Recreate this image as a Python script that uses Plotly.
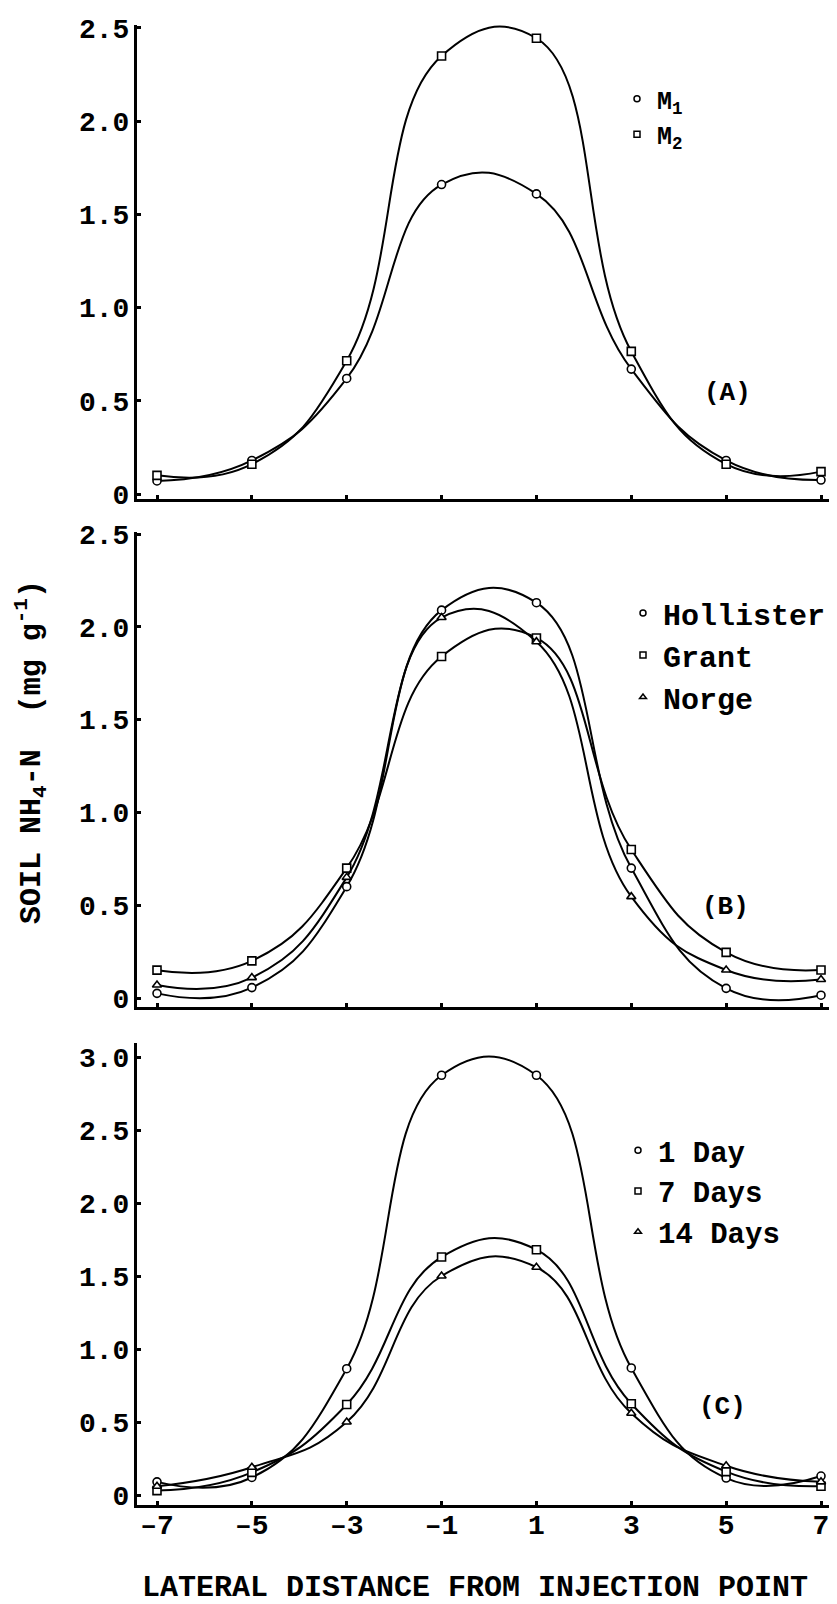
import plotly.graph_objects as go

# ---------------- data ----------------
distance = [-7, -5, -3, -1, 1, 3, 5, 7]

# Panel A
m1 = [0.07, 0.18, 0.62, 1.66, 1.61, 0.67, 0.18, 0.075]
m2 = [0.10, 0.16, 0.715, 2.35, 2.445, 0.765, 0.16, 0.12]

# Panel B
hollister = [0.025, 0.056, 0.60, 2.09, 2.13, 0.70, 0.052, 0.015]
grant = [0.15, 0.20, 0.70, 1.84, 1.94, 0.80, 0.246, 0.151]
norge = [0.07, 0.11, 0.65, 2.05, 1.92, 0.546, 0.151, 0.10]

# Panel C
day1 = [0.09, 0.12, 0.865, 2.875, 2.875, 0.87, 0.116, 0.13]
day7 = [0.03, 0.155, 0.62, 1.63, 1.68, 0.625, 0.16, 0.06]
day14 = [0.06, 0.19, 0.50, 1.50, 1.56, 0.56, 0.20, 0.09]

x_ticks = [-7, -5, -3, -1, 1, 3, 5, 7]
x_ticktext = ["\u20137", "\u20135", "\u20133", "\u20131", "1", "3", "5", "7"]
y_ticks_ab = [0, 0.5, 1.0, 1.5, 2.0, 2.5]
y_ticktext_ab = ["0", "0.5", "1.0", "1.5", "2.0", "2.5"]
y_ticks_c = [0, 0.5, 1.0, 1.5, 2.0, 2.5, 3.0]
y_ticktext_c = ["0", "0.5", "1.0", "1.5", "2.0", "2.5", "3.0"]

panels = [
    dict(ax="", legend="legend", label="(A)",
         series=[("M<sub>1</sub>", m1, "circle"), ("M<sub>2</sub>", m2, "square")]),
    dict(ax="2", legend="legend2", label="(B)",
         series=[("Hollister", hollister, "circle"), ("Grant", grant, "square"),
                 ("Norge", norge, "triangle-up")]),
    dict(ax="3", legend="legend3", label="(C)",
         series=[("1 Day", day1, "circle"), ("7 Days", day7, "square"),
                 ("14 Days", day14, "triangle-up")]),
]

# ---------------- layout geometry ----------------
# the page places the figure 8px in from the top-left corner (body margin)
W, H = 837, 1604
OFF = 8
ML = 137 - OFF
PW = W - ML


def py(yref):
    return 1 - (yref - OFF) / H


def px(xref):
    return (xref - OFF - ML) / PW


MONO = "Liberation Mono"

fig = go.Figure()

for p in panels:
    xa, ya = "x" + p["ax"], "y" + p["ax"]
    for name, vals, sym in p["series"]:
        fig.add_trace(go.Scatter(
            x=distance, y=vals, mode="lines+markers",
            line=dict(color="black", width=2, shape="spline", smoothing=1.3),
            marker=dict(symbol=sym, size=8, color="white",
                        line=dict(color="black", width=1.6)),
            xaxis=xa, yaxis=ya, showlegend=False, cliponaxis=False,
        ))
    for i, (name, vals, sym) in enumerate(p["series"]):
        fig.add_trace(go.Scatter(
            x=[None], y=[None], mode="markers", name=name,
            marker=dict(symbol=sym, size=6, color="white",
                        line=dict(color="black", width=1.5)),
            xaxis=xa, yaxis=ya, legend=p["legend"], legendgroup=p["legend"] + str(i),
            showlegend=True,
        ))

unit_px = (821 - 157) / 14.0
xmin = -7 - (157 - 137) / unit_px
xrange = [xmin, xmin + PW / unit_px]

axis_common = dict(showline=True, linecolor="black", linewidth=3, showgrid=False,
                   zeroline=False, ticks="inside", ticklen=4, tickwidth=3,
                   tickcolor="black", automargin=False)

tickfont = dict(family=MONO, size=28, color="black", weight="bold")

layout = dict(
    width=W, height=H,
    margin=dict(l=ML, r=0, t=0, b=0, pad=0, autoexpand=False),
    paper_bgcolor="white", plot_bgcolor="white",
    showlegend=True,
)

domains = {
    "": ([py(499), py(25)], [-0.0268, 2.516], y_ticks_ab, y_ticktext_ab),
    "2": ([py(1007), py(532)], [-0.0485, 2.511], y_ticks_ab, y_ticktext_ab),
    "3": ([py(1505), py(1043)], [-0.0685, 3.096], y_ticks_c, y_ticktext_c),
}

for key, (dom, yr, tv, tt) in domains.items():
    layout["xaxis" + key] = dict(axis_common, domain=[0, 1], anchor="y" + key,
                                 range=xrange, tickvals=x_ticks, ticktext=x_ticktext,
                                 showticklabels=(key == "3"), tickfont=tickfont,
                                 ticklabelstandoff=-8)
    layout["yaxis" + key] = dict(axis_common, domain=dom, anchor="x" + key,
                                 range=yr, tickvals=tv, ticktext=tt,
                                 tickfont=tickfont, ticklabelstandoff=-1)

legend_common = dict(xanchor="left", yanchor="top", bgcolor="rgba(0,0,0,0)",
                     tracegroupgap=0, itemwidth=30, itemclick=False,
                     itemdoubleclick=False)
layout["legend"] = dict(legend_common, x=px(617), y=py(76),
                        font=dict(family=MONO, size=25, color="black", weight="bold"))
layout["legend2"] = dict(legend_common, x=px(623), y=py(587),
                         font=dict(family=MONO, size=30, color="black", weight="bold"))
layout["legend3"] = dict(legend_common, x=px(618), y=py(1125),
                         font=dict(family=MONO, size=29, color="black", weight="bold"))

annotations = []
label_pos = {"(A)": (727, 393), "(B)": (725, 907), "(C)": (722, 1407)}
for p in panels:
    lx, ly = label_pos[p["label"]]
    annotations.append(dict(text="<b>" + p["label"] + "</b>", xref="paper", yref="paper",
                            x=px(lx), y=py(ly), xanchor="center", yanchor="middle",
                            showarrow=False,
                            font=dict(family=MONO, size=26, color="black")))

annotations.append(dict(text="<b>SOIL NH<sub>4</sub>-N  (mg g<sup>-1</sup>)</b>",
                        xref="paper", yref="paper", x=px(31), y=py(752),
                        xanchor="center", yanchor="middle", textangle=-90,
                        showarrow=False,
                        font=dict(family=MONO, size=30, color="black")))
annotations.append(dict(text="<b>LATERAL DISTANCE FROM INJECTION POINT (cm)</b>",
                        xref="paper", yref="paper", x=px(140), y=py(1588),
                        xanchor="left", yanchor="middle", showarrow=False,
                        font=dict(family=MONO, size=30, color="black")))
layout["annotations"] = annotations

fig.update_layout(**layout)
fig.write_html("out.html")
